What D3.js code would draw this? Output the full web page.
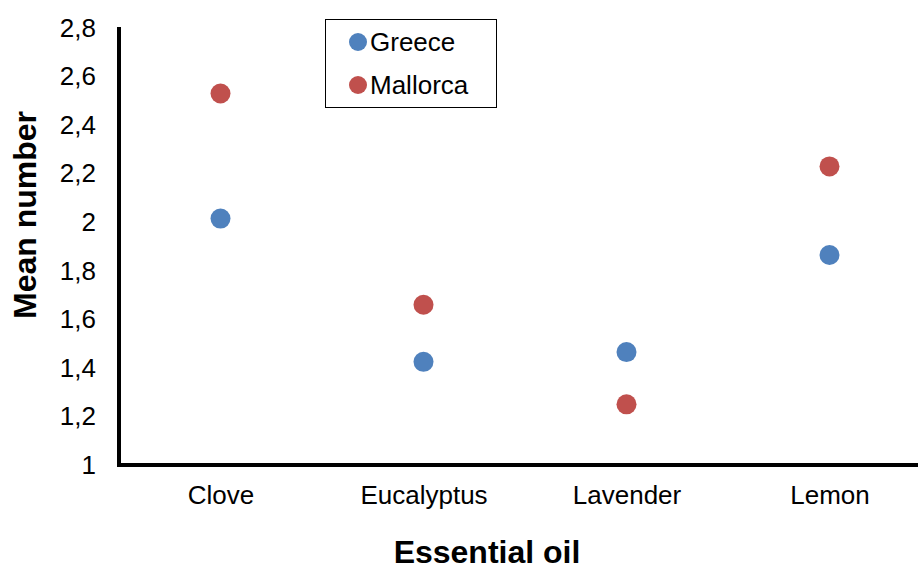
<!DOCTYPE html>
<html>
<head>
<meta charset="utf-8">
<script src="https://cdn.jsdelivr.net/npm/d3@7/dist/d3.min.js"></script>
<style>
  body { margin: 0; background: #fff; }
  svg { display: block; font-family: Arial, "Liberation Sans", sans-serif; }
</style>
</head>
<body>
<svg id="chart" width="918" height="566"></svg>
<script>
const categories = ["Clove", "Eucalyptus", "Lavender", "Lemon"];
const greece = [2.015, 1.425, 1.465, 1.865];
const mallorca = [2.53, 1.66, 1.25, 2.23];
const yTicks = [1, 1.2, 1.4, 1.6, 1.8, 2, 2.2, 2.4, 2.6, 2.8];
const yTickLabels = ["1", "1,2", "1,4", "1,6", "1,8", "2", "2,2", "2,4", "2,6", "2,8"];
const seriesNames = ["Greece", "Mallorca"];
const seriesColors = ["#4F81BD", "#C0504D"];

(function () {
const svg = d3.select("#chart");
const W = 918;
const mLeft = 119, mTop = 28, mBottom = 465;

const x = d3.scalePoint().domain(categories).range([mLeft, mLeft + 812]).padding(0.5);
const y = d3.scaleLinear().domain([1, 2.8]).range([mBottom, mTop]);

// Y axis
const yAxis = svg.append("g")
  .attr("transform", `translate(${mLeft},0)`)
  .call(d3.axisLeft(y).tickValues(yTicks).tickSize(0).tickPadding(23)
    .tickFormat((d, i) => yTickLabels[i]));
yAxis.select(".domain").remove();
yAxis.selectAll("text").attr("font-size", 26).attr("fill", "#000")
  .attr("font-family", "Arial, 'Liberation Sans', sans-serif");

// X axis
const xAxis = svg.append("g")
  .attr("transform", `translate(0,${mBottom})`)
  .call(d3.axisBottom(x).tickSize(0).tickPadding(21));
xAxis.select(".domain").remove();
xAxis.selectAll("text").attr("font-size", 26).attr("fill", "#000")
  .attr("font-family", "Arial, 'Liberation Sans', sans-serif");

// Axis lines
svg.append("line").attr("x1", mLeft).attr("x2", mLeft)
  .attr("y1", mTop - 1).attr("y2", mBottom + 2)
  .attr("stroke", "#000").attr("stroke-width", 4);
svg.append("line").attr("x1", mLeft - 2).attr("x2", W)
  .attr("y1", mBottom).attr("y2", mBottom)
  .attr("stroke", "#000").attr("stroke-width", 4);

// Points
const seriesData = [greece, mallorca];
seriesData.forEach((vals, si) => {
  svg.append("g").selectAll("circle")
    .data(vals)
    .join("circle")
    .attr("cx", (d, i) => x(categories[i]))
    .attr("cy", d => y(d))
    .attr("r", 10)
    .attr("fill", seriesColors[si]);
});

// Axis titles
svg.append("text")
  .attr("x", 487).attr("y", 563)
  .attr("text-anchor", "middle")
  .attr("font-size", 32).attr("font-weight", "bold")
  .text("Essential oil");
svg.append("text")
  .attr("transform", "translate(36,215) rotate(-90)")
  .attr("text-anchor", "middle")
  .attr("font-size", 32).attr("font-weight", "bold")
  .text("Mean number");

// Legend
const lg = svg.append("g");
lg.append("rect").attr("x", 325.5).attr("y", 19.5).attr("width", 171).attr("height", 88)
  .attr("fill", "#fff").attr("stroke", "#000").attr("stroke-width", 1);
seriesNames.forEach((name, i) => {
  const cy = 42 + i * 43;
  lg.append("circle").attr("cx", 358).attr("cy", cy).attr("r", 9).attr("fill", seriesColors[i]);
  lg.append("text").attr("x", 370).attr("y", cy + 9).attr("font-size", 26).text(name);
});
})();
</script>
</body>
</html>
